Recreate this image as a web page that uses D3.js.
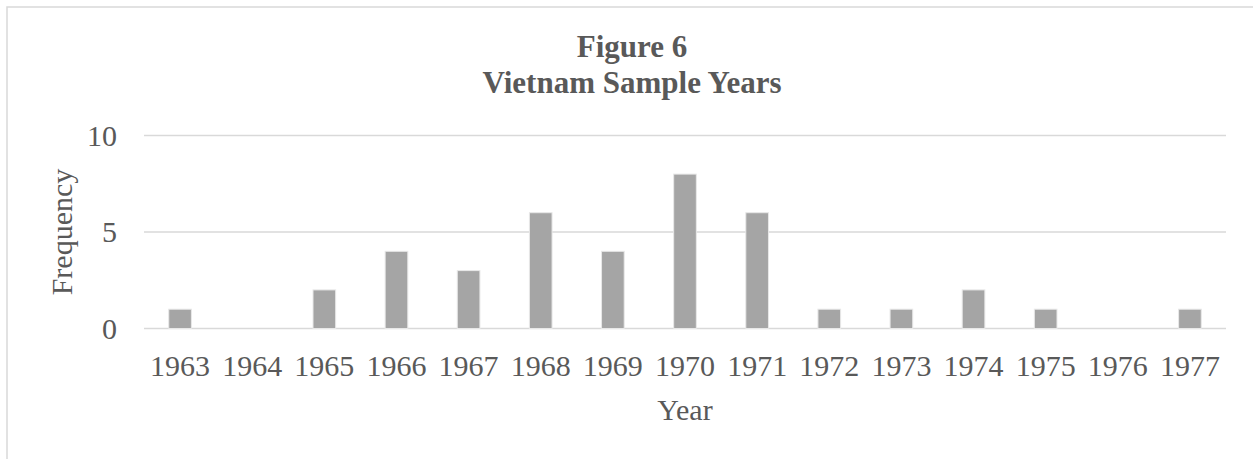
<!DOCTYPE html>
<script src="https://d3js.org/d3.v7.min.js"></script>

<style>
body {margin: 0; background: white;}
text {font-family: "Liberation Serif", "Times New Roman", serif; fill: #595959;}
.grid line {stroke: #d9d9d9; stroke-width: 1.5px;}
.bar {fill: #a5a5a5; stroke: #e8e8e8; stroke-width: 1px;}
</style>

<svg width="1253" height="459"></svg>

<script>
var years = ["1963", "1964", "1965", "1966", "1967", "1968", "1969", "1970",
             "1971", "1972", "1973", "1974", "1975", "1976", "1977"];
var counts = [1, 0, 2, 4, 3, 6, 4, 8, 6, 1, 1, 2, 1, 0, 1];
var yTicks = [0, 5, 10];

var svg = d3.select("svg");

// chart frame, runs off the right and bottom edge
svg.append("rect")
    .attr("x", 7).attr("y", 7)
    .attr("width", 1260).attr("height", 470)
    .attr("fill", "none")
    .attr("stroke", "#d9d9d9")
    .attr("stroke-width", 1.5);

var plotL = 144, plotR = 1226, plotT = 135.5, plotB = 328.5;

var x = d3.scaleBand()
    .domain(years)
    .range([plotL, plotR])
    .paddingInner(0.686)
    .paddingOuter(0.343);

var y = d3.scaleLinear()
    .domain([0, 10])
    .range([plotB, plotT]);

var grid = svg.append("g").attr("class", "grid");
grid.selectAll("line").data(yTicks).enter().append("line")
    .attr("x1", plotL).attr("x2", plotR)
    .attr("y1", function(d) { return y(d); })
    .attr("y2", function(d) { return y(d); });

svg.selectAll(".bar")
    .data(counts)
    .enter().append("rect")
    .attr("class", "bar")
    .attr("x", function(d, i) { return x(years[i]); })
    .attr("width", x.bandwidth())
    .attr("y", function(d) { return y(d); })
    .attr("height", function(d) { return y(0) - y(d); });

// y tick labels
svg.selectAll(".ylab").data(yTicks).enter().append("text")
    .attr("class", "ylab")
    .attr("x", 117)
    .attr("y", function(d) { return y(d); })
    .attr("dy", "0.34em")
    .attr("text-anchor", "end")
    .style("font-size", "30px")
    .text(function(d) { return d; });

// x tick labels
svg.selectAll(".xlab").data(years).enter().append("text")
    .attr("class", "xlab")
    .attr("x", function(d) { return x(d) + x.bandwidth() / 2; })
    .attr("y", 376)
    .attr("text-anchor", "middle")
    .style("font-size", "30px")
    .text(function(d) { return d; });

// axis titles
svg.append("text")
    .attr("x", (plotL + plotR) / 2)
    .attr("y", 420)
    .attr("text-anchor", "middle")
    .style("font-size", "30px")
    .text("Year");

svg.append("text")
    .attr("transform", "translate(72," + (plotT + plotB) / 2 + ") rotate(-90)")
    .attr("text-anchor", "middle")
    .style("font-size", "30px")
    .text("Frequency");

// title
var title = svg.append("text")
    .attr("text-anchor", "middle")
    .style("font-size", "31px")
    .style("font-weight", "bold");
title.append("tspan").attr("x", 632).attr("y", 57).text("Figure 6");
title.append("tspan").attr("x", 632).attr("y", 93).text("Vietnam Sample Years");
</script>
